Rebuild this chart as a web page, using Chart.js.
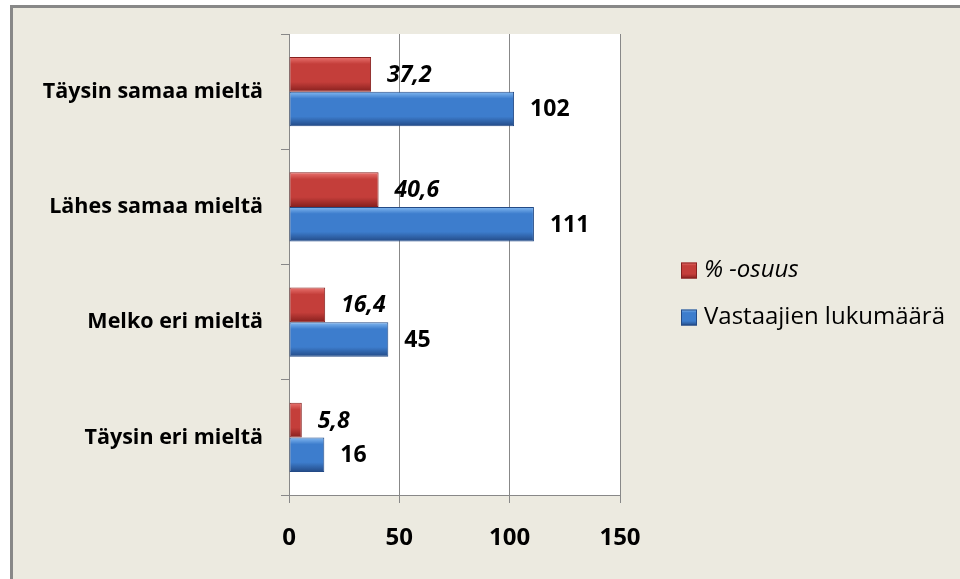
<!DOCTYPE html>
<html>
<head>
<meta charset="utf-8">
<script src="https://cdn.jsdelivr.net/npm/chart.js@4.4.1/dist/chart.umd.min.js"></script>
<style>
  html, body { margin: 0; padding: 0; background: #fff; overflow: hidden; }
  #frame {
    position: absolute; left: 10px; top: 5px; width: 950px; height: 574px;
    border-left: 3px solid #888; border-top: 3px solid #888;
    background: #ECEAE0;
  }
  #wrap { position: absolute; left: 0; top: 0; width: 947px; height: 571px; }
</style>
</head>
<body>
<div id="frame"><div id="wrap"><canvas id="myChart" width="947" height="571"></canvas></div></div>
<script>
const categories = ["Täysin samaa mieltä", "Lähes samaa mieltä", "Melko eri mieltä", "Täysin eri mieltä"];
const osuus = [37.2, 40.6, 16.4, 5.8];
const lukumaara = [102, 111, 45, 16];
const seriesNames = ["% -osuus", "Vastaajien lukumäärä"];
const xTicks = [0, 50, 100, 150];

const FONT = "'Open Sans'";
const RED = ["#EA7470", "#C43E3A", "#87201E"];
const BLUE = ["#86BBF2", "#3D7DCD", "#234A86"];

function bevel(c, top, h, cols) {
  const g = c.createLinearGradient(0, top, 0, top + h);
  g.addColorStop(0, cols[0]);
  g.addColorStop(0.2, cols[1]);
  g.addColorStop(0.72, cols[1]);
  g.addColorStop(1, cols[2]);
  return g;
}

// bar fill: vertical gradient over the bar's own band, taken from the y scale
function barFill(cols, slot) {
  return (context) => {
    const chart = context.chart;
    const y = chart.scales.y;
    if (!y || context.dataIndex === undefined) return cols[1];
    const band = (y.bottom - y.top) / categories.length;
    const thick = band * 0.6 / 2;
    const center = y.getPixelForValue(context.dataIndex);
    const top = center - thick + slot * thick;
    if (!isFinite(top) || !isFinite(thick) || thick <= 0) return cols[1];
    return bevel(chart.ctx, top, thick, cols);
  };
}

const plotBg = {
  id: "plotBg",
  beforeDraw(chart) {
    const { ctx, chartArea: a } = chart;
    ctx.save();
    ctx.fillStyle = "#fff";
    ctx.fillRect(a.left, a.top, a.right - a.left, a.bottom - a.top);
    ctx.restore();
  },
};

const valueLabels = {
  id: "valueLabels",
  afterDatasetsDraw(chart) {
    const ctx = chart.ctx;
    ctx.save();
    ctx.fillStyle = "#000";
    ctx.textBaseline = "middle";
    ctx.textAlign = "left";
    chart.data.datasets.forEach((ds, di) => {
      ctx.font = (di === 0 ? "italic " : "") + "bold 23px " + FONT;
      chart.getDatasetMeta(di).data.forEach((bar, i) => {
        const txt = String(ds.data[i]).replace(".", ",");
        ctx.fillText(txt, bar.x + 16, bar.y + 1);
      });
    });
    ctx.restore();
  },
};

const sideLegend = {
  id: "sideLegend",
  afterDraw(chart) {
    const ctx = chart.ctx;
    const a = chart.chartArea;
    const mid = (a.top + a.bottom) / 2;
    const x = a.right + 61;
    const rows = [mid + 6, mid + 53];
    ctx.save();
    chart.data.datasets.forEach((ds, di) => {
      const cy = rows[di];
      const cols = di === 0 ? RED : BLUE;
      ctx.fillStyle = bevel(ctx, cy - 8, 16, cols);
      ctx.fillRect(x, cy - 8, 16, 16);
      ctx.strokeStyle = cols[2];
      ctx.lineWidth = 1;
      ctx.strokeRect(x + 0.5, cy - 7.5, 15, 15);
      ctx.fillStyle = "#000";
      ctx.textBaseline = "middle";
      ctx.font = (di === 0 ? "italic " : "") + "24px " + FONT;
      ctx.fillText(ds.label, x + 23, cy);
    });
    ctx.restore();
  },
};

const ctx = document.getElementById("myChart").getContext("2d");
const myChart = new Chart(ctx, {
  type: "bar",
  data: {
    labels: categories,
    datasets: [
      {
        label: seriesNames[0],
        data: osuus,
        backgroundColor: barFill(RED, 0),
        borderColor: RED[2],
        borderWidth: 1,
        borderSkipped: false,
      },
      {
        label: seriesNames[1],
        data: lukumaara,
        backgroundColor: barFill(BLUE, 1),
        borderColor: BLUE[2],
        borderWidth: 1,
        borderSkipped: false,
      },
    ],
  },
  options: {
    indexAxis: "y",
    responsive: false,
    animation: false,
    categoryPercentage: 0.6,
    barPercentage: 1.0,
    layout: { padding: { top: 26, right: 340, left: 0, bottom: 0 } },
    plugins: {
      legend: { display: false },
      tooltip: { enabled: false },
    },
    scales: {
      x: {
        min: 0,
        max: 150,
        afterBuildTicks: (s) => { s.ticks = xTicks.map((v) => ({ value: v })); },
        afterFit: (s) => { s.height = 84; s.paddingLeft = 0; s.paddingRight = 0; },
        grid: { color: "#888", lineWidth: 1, tickLength: 8, drawTicks: true },
        border: { color: "#888" },
        ticks: { color: "#000", padding: 21, font: { family: FONT, size: 24, weight: "bold" } },
      },
      y: {
        afterFit: (s) => { s.width = 276; s.paddingTop = 0; s.paddingBottom = 0; },
        grid: { drawOnChartArea: false, color: "#888", tickLength: 8 },
        border: { color: "#888" },
        ticks: { color: "#000", padding: 18, font: { family: FONT, size: 21.5, weight: "bold" } },
      },
    },
  },
  plugins: [plotBg, valueLabels, sideLegend],
});
</script>
</body>
</html>
